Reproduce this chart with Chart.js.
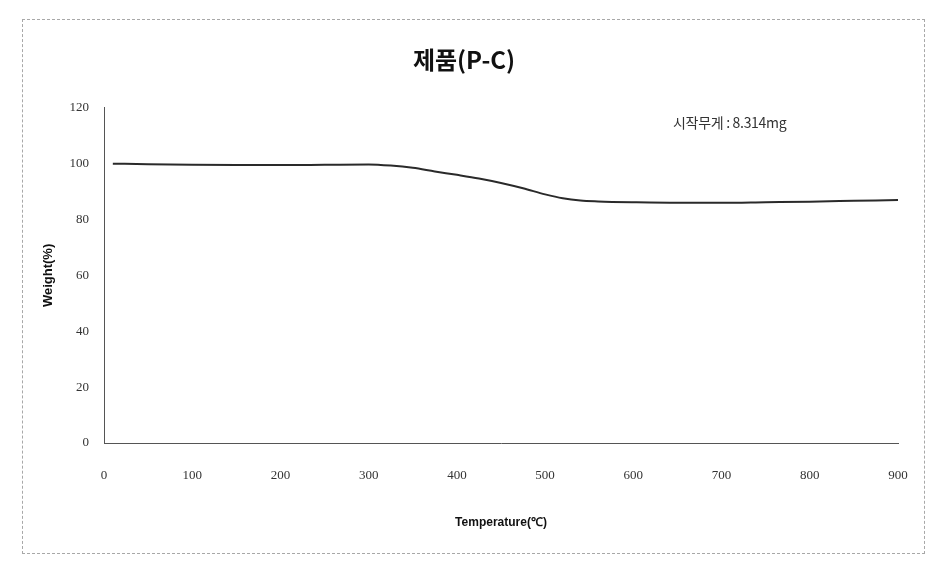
<!DOCTYPE html>
<html>
<head>
<meta charset="utf-8">
<script src="https://cdn.jsdelivr.net/npm/chart.js@4"></script>
<style>
  html, body { margin: 0; padding: 0; background: #fff; }
  #wrap { position: relative; width: 938px; height: 568px; }
  #frame { position: absolute; left: 22px; top: 19px; width: 901px; height: 533px; border: 1px dashed #a8a8a8; pointer-events: none; }
  #note { position: absolute; left: 673px; top: 112px; font-family: "Noto Sans CJK KR", sans-serif; font-size: 14px; color: #333; white-space: nowrap; letter-spacing: -0.3px; }
</style>
</head>
<body>
<div id="wrap">
  <canvas id="c" width="938" height="568"></canvas>
  <div id="frame"></div>
  <div id="note">시작무게 : 8.314mg</div>
</div>
<script>
const chartTitle = "제품(P-C)";
const xAxisTitle = "Temperature(℃)";
const yAxisTitle = "Weight(%)";
const temperatures = [10, 50, 100, 150, 200, 250, 300, 325, 350, 375, 400, 425, 450, 475, 500, 520, 540, 560, 600, 650, 700, 750, 800, 850, 900];
const weights =      [100.0, 99.8, 99.6, 99.5, 99.5, 99.6, 99.7, 99.3, 98.5, 97.2, 96.0, 94.7, 93.1, 91.2, 89.0, 87.6, 86.8, 86.5, 86.2, 86.0, 86.0, 86.2, 86.4, 86.7, 87.0];
const xTicks = [0, 100, 200, 300, 400, 500, 600, 700, 800, 900];
const yTicks = [0, 20, 40, 60, 80, 100, 120];

const points = temperatures.map((t, i) => ({ x: t, y: weights[i] }));

new Chart(document.getElementById('c'), {
  type: 'line',
  data: {
    datasets: [{
      data: points,
      borderColor: '#2a2a2a',
      borderWidth: 2,
      pointRadius: 0,
      tension: 0.4,
      cubicInterpolationMode: 'monotone',
      fill: false
    }]
  },
  options: {
    responsive: false,
    animation: false,
    devicePixelRatio: 1,
    layout: { padding: { left: 30, right: 40, top: 0, bottom: 20 } },
    plugins: {
      legend: { display: false },
      tooltip: { enabled: false },
      title: {
        display: true,
        text: chartTitle,
        color: '#111',
        font: { family: '"Noto Sans CJK KR", sans-serif', size: 24, weight: 'bold', lineHeight: 1.2 },
        padding: { top: 45, bottom: 34 }
      }
    },
    scales: {
      x: {
        type: 'linear',
        min: 0, max: 900,
        afterBuildTicks: (s) => { s.ticks = xTicks.map(v => ({ value: v })); },
        afterFit: (s) => { s.height = 105; },
        grid: { drawOnChartArea: false, drawTicks: false },
        border: { display: true, color: '#555', width: 1, dash: [3, 2] },
        ticks: {
          padding: 25,
          color: '#333',
          font: { family: '"Liberation Serif", serif', size: 13 },
          maxRotation: 0
        },
        title: {
          display: true,
          text: xAxisTitle,
          color: '#111',
          font: { family: '"Liberation Sans", Arial, sans-serif', size: 12, weight: 'bold', lineHeight: 1.2 },
          padding: { top: 0, bottom: 18 }
        }
      },
      y: {
        type: 'linear',
        min: 0, max: 120,
        afterBuildTicks: (s) => { s.ticks = yTicks.map(v => ({ value: v })); },
        afterFit: (s) => { s.width = 74; },
        grid: { drawOnChartArea: false, drawTicks: false },
        border: { display: true, color: '#555', width: 1, dash: [2, 2] },
        ticks: {
          padding: 15,
          color: '#333',
          font: { family: '"Liberation Serif", serif', size: 13 }
        },
        title: {
          display: true,
          text: yAxisTitle,
          color: '#111',
          font: { family: '"Liberation Sans", Arial, sans-serif', size: 13, weight: 'bold', lineHeight: 1.2 },
          padding: { top: 11, bottom: 0 }
        }
      }
    }
  }
});
</script>
</body>
</html>
